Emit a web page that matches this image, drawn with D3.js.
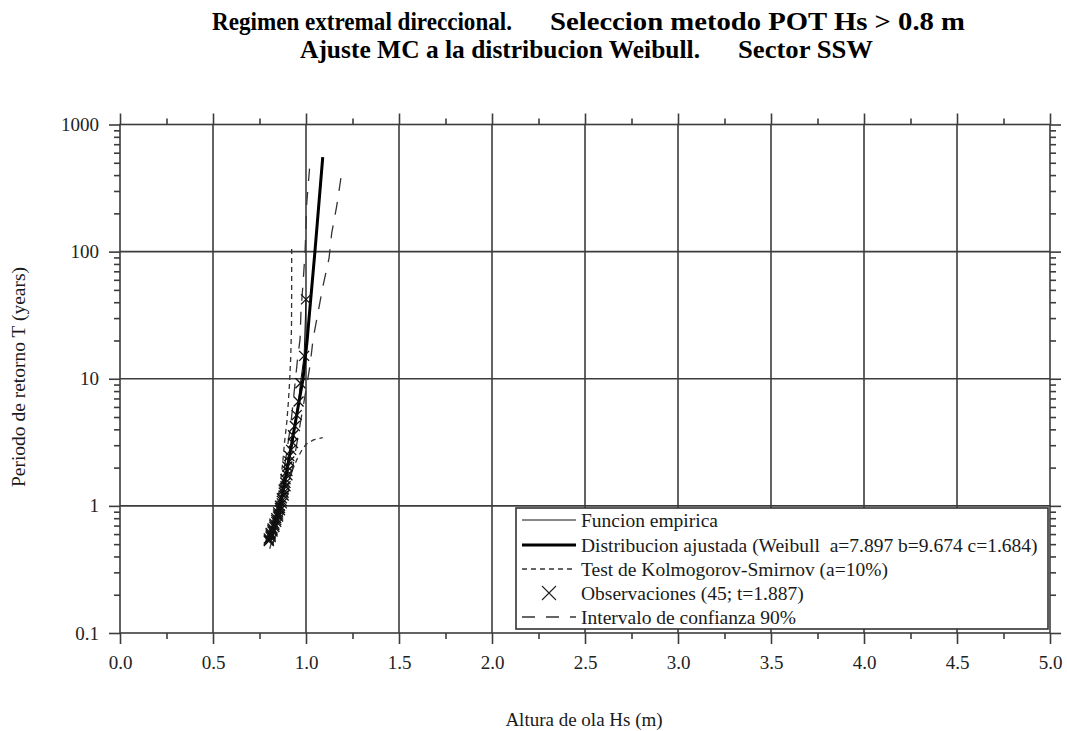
<!DOCTYPE html>
<html>
<head>
<meta charset="utf-8">
<script src="https://cdn.jsdelivr.net/npm/d3@7"></script>
<style>
  html, body { margin: 0; padding: 0; background: #fff; }
  svg { display: block; }
  text { font-family: "Liberation Serif", "Times New Roman", serif; fill: #1a1a1a; }
</style>
</head>
<body>
<svg id="chart" width="1067" height="731"></svg>
<script>
// ---- Axis ticks ----
const xMajor = [0, 0.5, 1, 1.5, 2, 2.5, 3, 3.5, 4, 4.5, 5];
const xMajorLabels = ["0.0", "0.5", "1.0", "1.5", "2.0", "2.5", "3.0", "3.5", "4.0", "4.5", "5.0"];
const xMinor = [0.25, 0.75, 1.25, 1.75, 2.25, 2.75, 3.25, 3.75, 4.25, 4.75];
const yMajor = [0.1, 1, 10, 100, 1000];
const yMajorLabels = ["0.1", "1", "10", "100", "1000"];
const yMinorMantissa = [2, 3, 4, 5, 6, 7, 8, 9];

// ---- Observed storms, Hs (m) and return period (years) ----
const obsHs = [0.80, 0.80, 0.80, 0.81, 0.81, 0.81, 0.81, 0.82, 0.82, 0.82,
               0.83, 0.83, 0.83, 0.84, 0.84, 0.84, 0.85, 0.85, 0.85, 0.86,
               0.86, 0.86, 0.87, 0.87, 0.87, 0.88, 0.88, 0.88, 0.89, 0.89,
               0.89, 0.90, 0.90, 0.90, 0.91, 0.91, 0.92, 0.93, 0.93, 0.94,
               0.95, 0.96, 0.97, 0.99, 1.00];
const obsT = [0.530, 0.542, 0.555, 0.568, 0.582, 0.597, 0.612, 0.628, 0.646, 0.664,
              0.683, 0.703, 0.725, 0.748, 0.772, 0.798, 0.826, 0.856, 0.889, 0.923,
              0.961, 1.002, 1.046, 1.095, 1.148, 1.207, 1.272, 1.344, 1.425, 1.517,
              1.621, 1.740, 1.879, 2.042, 2.235, 2.469, 2.757, 3.122, 3.598, 4.245,
              5.175, 6.629, 9.219, 15.13, 42.14];

// ---- Fitted Weibull distribution ----
const fitHs = [0.806, 0.86, 0.90, 0.925, 0.948, 0.984, 1.006, 1.018, 1.048, 1.065, 1.09];
const fitT  = [0.53, 1.0, 2.0, 3.2, 5.0, 10, 20, 32, 100, 200, 555];

// ---- Kolmogorov-Smirnov band (a = 10%) ----
const ksLowHs = [0.805, 0.83, 0.86, 0.875, 0.885, 0.897, 0.905, 0.912, 0.918, 0.922, 0.923, 0.923];
const ksLowT  = [0.63, 0.85, 1.4, 2.2, 3.2, 4.6, 6.5, 9.5, 15, 25, 50, 105];
const ksHighHs = [0.805, 0.83, 0.86, 0.89, 0.92, 0.95, 0.975, 1.0, 1.04, 1.09];
const ksHighT  = [0.46, 0.62, 0.85, 1.3, 1.8, 2.3, 2.7, 3.05, 3.3, 3.45];

// ---- 90% confidence interval ----
const ciLeftHs = [0.80, 0.84, 0.88, 0.92, 0.955, 0.968, 0.973, 0.984, 0.995, 1.004, 1.019];
const ciLeftT  = [0.56, 0.85, 1.8, 4.6, 14.5, 20.5, 34, 56, 100, 240, 450];
const ciRightHs = [0.82, 0.89, 0.94, 0.98, 1.005, 1.022, 1.038, 1.065, 1.091, 1.124, 1.138, 1.165, 1.192];
const ciRightT  = [0.5, 1.0, 2.5, 5.5, 9, 12.8, 20.5, 33.4, 53.5, 89, 139, 228, 417];

// ---- Legend entries ----
const legendLabels = [
  "Funcion empirica",
  "Distribucion ajustada (Weibull  a=7.897 b=9.674 c=1.684)",
  "Test de Kolmogorov-Smirnov (a=10%)",
  "Observaciones (45; t=1.887)",
  "Intervalo de confianza 90%"
];

const svg = d3.select("#chart");
const pL = 120, pR = 1050, pT = 124.5, pB = 633;
const x = d3.scaleLinear().domain([0, 5]).range([pL, pR]);
const y = d3.scaleLog().domain([0.1, 1000]).range([pB, pT]);

const frameColor = "#3c3c3c";

// Titles (condensed bold serif)
const titleParts = [
  { t: "Regimen extremal direccional.", x: 212, y: 30, len: 300 },
  { t: "Seleccion metodo POT Hs > 0.8 m", x: 550, y: 30, len: 415 },
  { t: "Ajuste MC a la distribucion Weibull.", x: 300, y: 58, len: 400 },
  { t: "Sector SSW", x: 738, y: 58, len: 135 }
];
svg.append("g").selectAll("text").data(titleParts).join("text")
  .attr("x", d => d.x).attr("y", d => d.y)
  .attr("textLength", d => d.len).attr("lengthAdjust", "spacingAndGlyphs")
  .style("font-size", "25px").style("font-weight", "bold").style("fill", "#000")
  .text(d => d.t);

// Grid
const grid = svg.append("g");
grid.selectAll("line.vx").data(xMajor.slice(1, -1)).join("line")
  .attr("x1", d => x(d)).attr("x2", d => x(d))
  .attr("y1", pT).attr("y2", pB)
  .attr("stroke", frameColor).attr("stroke-width", 1.6);
grid.selectAll("line.hy").data(yMajor.slice(1, -1)).join("line")
  .attr("x1", pL).attr("x2", pR)
  .attr("y1", d => y(d)).attr("y2", d => y(d))
  .attr("stroke", frameColor).attr("stroke-width", 1.6);

// Minor log ticks
const yMinor = [];
[0.1, 1, 10, 100].forEach(dec => yMinorMantissa.forEach(m => yMinor.push(dec * m)));

// Axes
function styleAxis(g) {
  g.select(".domain").remove();
  g.selectAll("line").attr("stroke", frameColor).attr("stroke-width", 1.6);
  g.selectAll("text").style("font-size", "19px").style("fill", "#222")
    .style("font-family", "\"Liberation Serif\", serif");
}
svg.append("g").attr("transform", `translate(0,${pB})`)
  .call(d3.axisBottom(x).tickValues(xMajor).tickSize(11).tickPadding(12)
    .tickFormat((d, i) => xMajorLabels[i]))
  .call(styleAxis);
svg.append("g").attr("transform", `translate(0,${pB})`)
  .call(d3.axisBottom(x).tickValues(xMinor).tickSize(6).tickFormat(""))
  .call(styleAxis);
svg.append("g").attr("transform", `translate(0,${pT})`)
  .call(d3.axisTop(x).tickValues(xMajor).tickSize(11).tickFormat(""))
  .call(styleAxis);
svg.append("g").attr("transform", `translate(0,${pT})`)
  .call(d3.axisTop(x).tickValues(xMinor).tickSize(6).tickFormat(""))
  .call(styleAxis);
svg.append("g").attr("transform", `translate(${pL},0)`)
  .call(d3.axisLeft(y).tickValues(yMajor).tickSize(11).tickPadding(10)
    .tickFormat((d, i) => yMajorLabels[i]))
  .call(styleAxis);
svg.append("g").attr("transform", `translate(${pL},0)`)
  .call(d3.axisLeft(y).tickValues(yMinor).tickSize(6).tickFormat(""))
  .call(styleAxis);
svg.append("g").attr("transform", `translate(${pR},0)`)
  .call(d3.axisRight(y).tickValues(yMajor).tickSize(11).tickFormat(""))
  .call(styleAxis);
svg.append("g").attr("transform", `translate(${pR},0)`)
  .call(d3.axisRight(y).tickValues(yMinor).tickSize(6).tickFormat(""))
  .call(styleAxis);

// Frame
svg.append("rect").attr("x", pL).attr("y", pT)
  .attr("width", pR - pL).attr("height", pB - pT)
  .attr("fill", "none").attr("stroke", frameColor).attr("stroke-width", 1.6);

// Axis titles
svg.append("text").attr("x", 584).attr("y", 726).attr("text-anchor", "middle")
  .style("font-size", "19px").text("Altura de ola Hs (m)");
svg.append("text").attr("transform", "translate(25,377) rotate(-90)")
  .attr("text-anchor", "middle").style("font-size", "19.5px")
  .text("Periodo de retorno T (years)");

// Data curves
svg.append("clipPath").attr("id", "plotClip").append("rect")
  .attr("x", pL).attr("y", pT).attr("width", pR - pL).attr("height", pB - pT);
const plot = svg.append("g").attr("clip-path", "url(#plotClip)");
const line = d3.line().x(d => x(d[0])).y(d => y(d[1]));

function drawCurve(hs, t, stroke, width, dash) {
  plot.append("path").datum(d3.zip(hs, t))
    .attr("d", line).attr("fill", "none")
    .attr("stroke", stroke).attr("stroke-width", width)
    .attr("stroke-dasharray", dash || null);
}
drawCurve(ciLeftHs, ciLeftT, "#333", 1.3, "13,11");
drawCurve(ciRightHs, ciRightT, "#333", 1.3, "13,11");
drawCurve(ksLowHs, ksLowT, "#333", 1.3, "5,4");
drawCurve(ksHighHs, ksHighT, "#333", 1.3, "5,4");
drawCurve(obsHs, obsT, "#111", 1, null);
drawCurve(fitHs, fitT, "#000", 3, null);

// Observation markers
const ms = 5;
plot.append("g").selectAll("path").data(d3.zip(obsHs, obsT)).join("path")
  .attr("d", d => {
    const cx = x(d[0]), cy = y(d[1]);
    return `M${cx - ms},${cy - ms}L${cx + ms},${cy + ms}M${cx - ms},${cy + ms}L${cx + ms},${cy - ms}`;
  })
  .attr("stroke", "#111").attr("stroke-width", 1.3).attr("fill", "none");

// Legend
const lg = svg.append("g");
lg.append("rect").attr("x", 516).attr("y", 508).attr("width", 532).attr("height", 121)
  .attr("fill", "#fff").attr("stroke", "#333").attr("stroke-width", 1.6);
const rowY = [520, 545, 569, 593, 617];
const sx0 = 522, sx1 = 576;
lg.append("line").attr("x1", sx0).attr("x2", sx1).attr("y1", rowY[0]).attr("y2", rowY[0])
  .attr("stroke", "#111").attr("stroke-width", 1);
lg.append("line").attr("x1", sx0).attr("x2", sx1).attr("y1", rowY[1]).attr("y2", rowY[1])
  .attr("stroke", "#000").attr("stroke-width", 3);
lg.append("line").attr("x1", sx0).attr("x2", sx1).attr("y1", rowY[2]).attr("y2", rowY[2])
  .attr("stroke", "#333").attr("stroke-width", 1.3).attr("stroke-dasharray", "5,4");
{
  const cx = 549, cy = rowY[3], s = 7;
  lg.append("path")
    .attr("d", `M${cx - s},${cy - s}L${cx + s},${cy + s}M${cx - s},${cy + s}L${cx + s},${cy - s}`)
    .attr("stroke", "#222").attr("stroke-width", 1.1).attr("fill", "none");
}
lg.append("line").attr("x1", sx0).attr("x2", sx1).attr("y1", rowY[4]).attr("y2", rowY[4])
  .attr("stroke", "#333").attr("stroke-width", 1.3).attr("stroke-dasharray", "13,11");
lg.selectAll("text").data(legendLabels).join("text")
  .attr("x", 581).attr("y", (d, i) => rowY[i]).attr("dy", "0.35em")
  .style("font-size", "19.5px").style("white-space", "pre").text(d => d);
</script>
</body>
</html>
